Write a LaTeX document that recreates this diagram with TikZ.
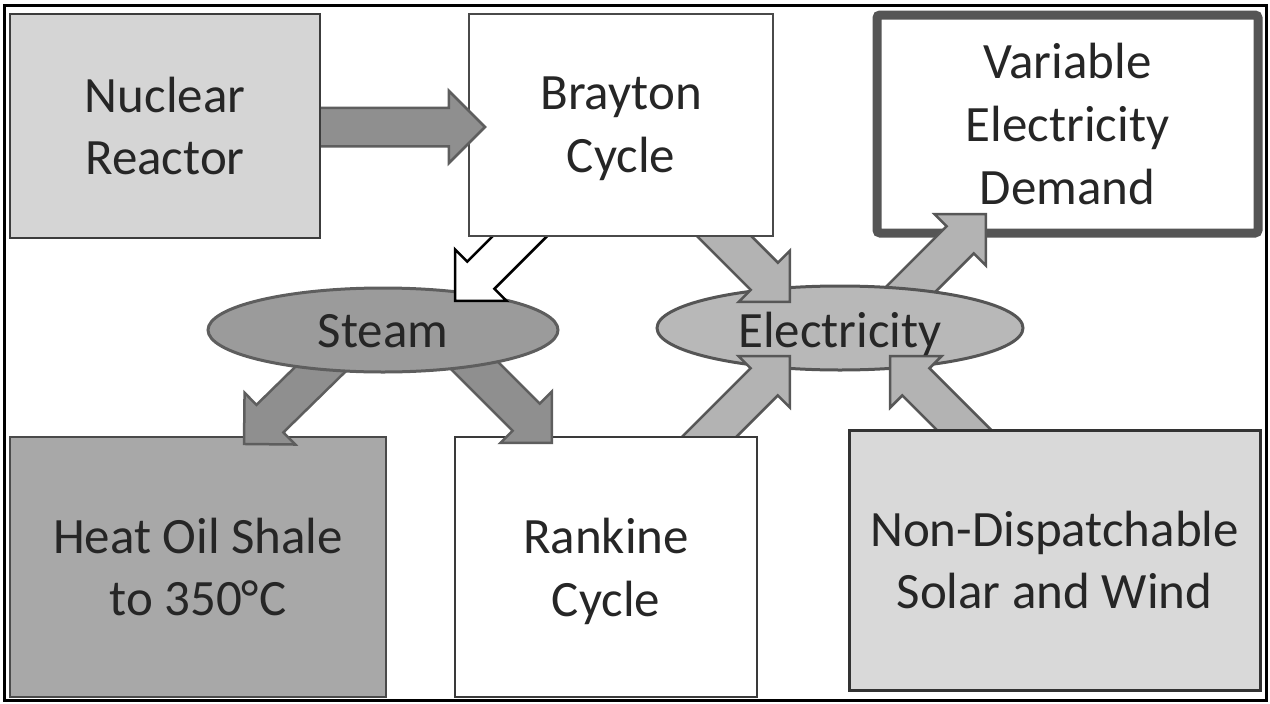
\documentclass[tikz,border=0pt]{standalone}
\usepackage{fontspec}
\setmainfont{Carlito}
\usetikzlibrary{shapes.geometric,shapes.arrows,calc}
\newlength\pxu \setlength\pxu{0.02cm}
\pgfdeclarelayer{l1}\pgfdeclarelayer{l2}\pgfdeclarelayer{l3}\pgfdeclarelayer{l4}
\pgfdeclarelayer{l5}\pgfdeclarelayer{l6}\pgfdeclarelayer{l7}\pgfdeclarelayer{l8}
\pgfdeclarelayer{l9}\pgfdeclarelayer{l10}
\pgfsetlayers{l1,l2,l3,l4,l5,l6,l7,l8,l9,l10,main}
\definecolor{txt}{HTML}{262626}
\definecolor{nucfill}{HTML}{D5D5D5}
\definecolor{nucline}{HTML}{3C3C3C}
\definecolor{braline}{HTML}{4A4A4A}
\definecolor{varline}{HTML}{555555}
\definecolor{heatfill}{HTML}{A8A8A8}
\definecolor{heatline}{HTML}{4A4A4A}
\definecolor{rankline}{HTML}{3A3A3A}
\definecolor{nondfill}{HTML}{D9D9D9}
\definecolor{nondline}{HTML}{333333}
\definecolor{steamfill}{HTML}{9B9B9B}
\definecolor{steamline}{HTML}{5E5E5E}
\definecolor{elecfill}{HTML}{B8B8B8}
\definecolor{elecline}{HTML}{555555}
\definecolor{darkarrfill}{HTML}{8F8F8F}
\definecolor{darkarrline}{HTML}{5E5E5E}
\definecolor{lightarrfill}{HTML}{B3B3B3}
\definecolor{lightarrline}{HTML}{575757}
\tikzset{
  boxtext/.style={font=\fontsize{29}{35.8}\selectfont, text=txt},
  box/.style={rectangle, inner sep=0pt, outer sep=0pt, align=center, boxtext},
  blob/.style={ellipse, inner sep=0pt, outer sep=0pt, line width=3\pxu},
  blockarr/.style={single arrow, inner xsep=0pt, inner ysep=18\pxu, outer sep=0pt,
    single arrow head extend=17\pxu, single arrow tip angle=90, minimum width=0pt,
    line width=2.5\pxu, line join=miter},
  darkarr/.style={blockarr, draw=darkarrline, fill=darkarrfill},
  lightarr/.style={blockarr, draw=lightarrline, fill=lightarrfill},
  whitearr/.style={blockarr, draw=black, fill=white},
}
% #1 style, #2 name, #3 from, #4 to
\newcommand\blockarrow[4]{%
  \path let \p1=($(#4)-(#3)$), \n1={atan2(\y1,\x1)}, \n2={veclen(\x1,\y1)} in
    (#3) node[#1, rotate=\n1, minimum height=\n2, anchor=tail] (#2) {};
}
\begin{document}
\begin{tikzpicture}[x=0.02cm, y=-0.02cm]
\useasboundingbox (0,0) rectangle (1270,703);
% connector end points
\coordinate (nbT) at (300,127);  \coordinate (nbH) at (485,127);
\coordinate (bsT) at (549,207);  \coordinate (bsH) at (455,301);
\coordinate (beT) at (694,206);  \coordinate (beH) at (790,302);
\coordinate (reT) at (690,456);  \coordinate (reH) at (790,356);
\coordinate (neT) at (984,450);  \coordinate (neH) at (890,356);
\coordinate (evT) at (892,308);  \coordinate (evH) at (986,214);
\coordinate (shT) at (340,350);  \coordinate (shH) at (244,444);
\coordinate (srT) at (457,348);  \coordinate (srH) at (552,443);

\begin{pgfonlayer}{l1}
\node[box, draw=varline, fill=white, line width=9\pxu, rounded corners=3\pxu,
  minimum width=381\pxu, minimum height=218\pxu] (var) at (1067.5,124)
  {Variable\\Electricity\\Demand};
\end{pgfonlayer}
\begin{pgfonlayer}{l2}
\blockarrow{lightarr}{aev}{evT}{evH}
\end{pgfonlayer}
\begin{pgfonlayer}{l3}
\node[blob, draw=elecline, fill=elecfill, minimum width=366\pxu, minimum height=84\pxu] (elec) at (840,328) {};
\end{pgfonlayer}
\begin{pgfonlayer}{l4}
\blockarrow{lightarr}{abe}{beT}{beH}
\blockarrow{lightarr}{are}{reT}{reH}
\blockarrow{lightarr}{ane}{neT}{neH}
\end{pgfonlayer}
\begin{pgfonlayer}{l5}
\node[box, draw=heatline, fill=heatfill, line width=2.5\pxu,
  minimum width=376\pxu, minimum height=260\pxu] (heat) at (198,567)
  {Heat Oil Shale\\to 350°C};
\node[box, draw=rankline, fill=white, line width=2.5\pxu, text depth=0pt,
  minimum width=302\pxu, minimum height=260\pxu] (rank) at (606,567)
  {Rankine\\Cycle};
\node[box, draw=nondline, fill=nondfill, line width=3\pxu,
  minimum width=411\pxu, minimum height=260\pxu] (nond) at (1054.5,560)
  {Non-Dispatchable\\Solar and Wind};
\end{pgfonlayer}
\begin{pgfonlayer}{l6}
\blockarrow{darkarr}{ash}{shT}{shH}
\blockarrow{darkarr}{asr}{srT}{srH}
\end{pgfonlayer}
\begin{pgfonlayer}{l7}
\node[blob, draw=steamline, fill=steamfill, minimum width=350\pxu, minimum height=84\pxu] (steam) at (383,330) {};
\end{pgfonlayer}
\begin{pgfonlayer}{l8}
\blockarrow{whitearr}{abs}{bsT}{bsH}
\end{pgfonlayer}
\begin{pgfonlayer}{l9}
\node[box, draw=braline, fill=white, line width=2.5\pxu, text depth=0pt,
  minimum width=304\pxu, minimum height=222\pxu] (bray) at (621,125)
  {Brayton\\Cycle};
\end{pgfonlayer}
\begin{pgfonlayer}{l10}
\blockarrow{darkarr}{anb}{nbT}{nbH}
\end{pgfonlayer}
\node[box, draw=nucline, fill=nucfill, line width=2.5\pxu,
  minimum width=310\pxu, minimum height=224\pxu] (nuc) at (165,126)
  {Nuclear\\Reactor};
\node[boxtext, anchor=base] (steamlbl) at ($(steam.center)+(0,17)$) {Steam};
\node[boxtext, anchor=base] (eleclbl) at ($(elec.center)+(0,19)$) {Electricity};
\draw[line width=3\pxu] (4,5) rectangle (1266,700);
\end{tikzpicture}
\end{document}
